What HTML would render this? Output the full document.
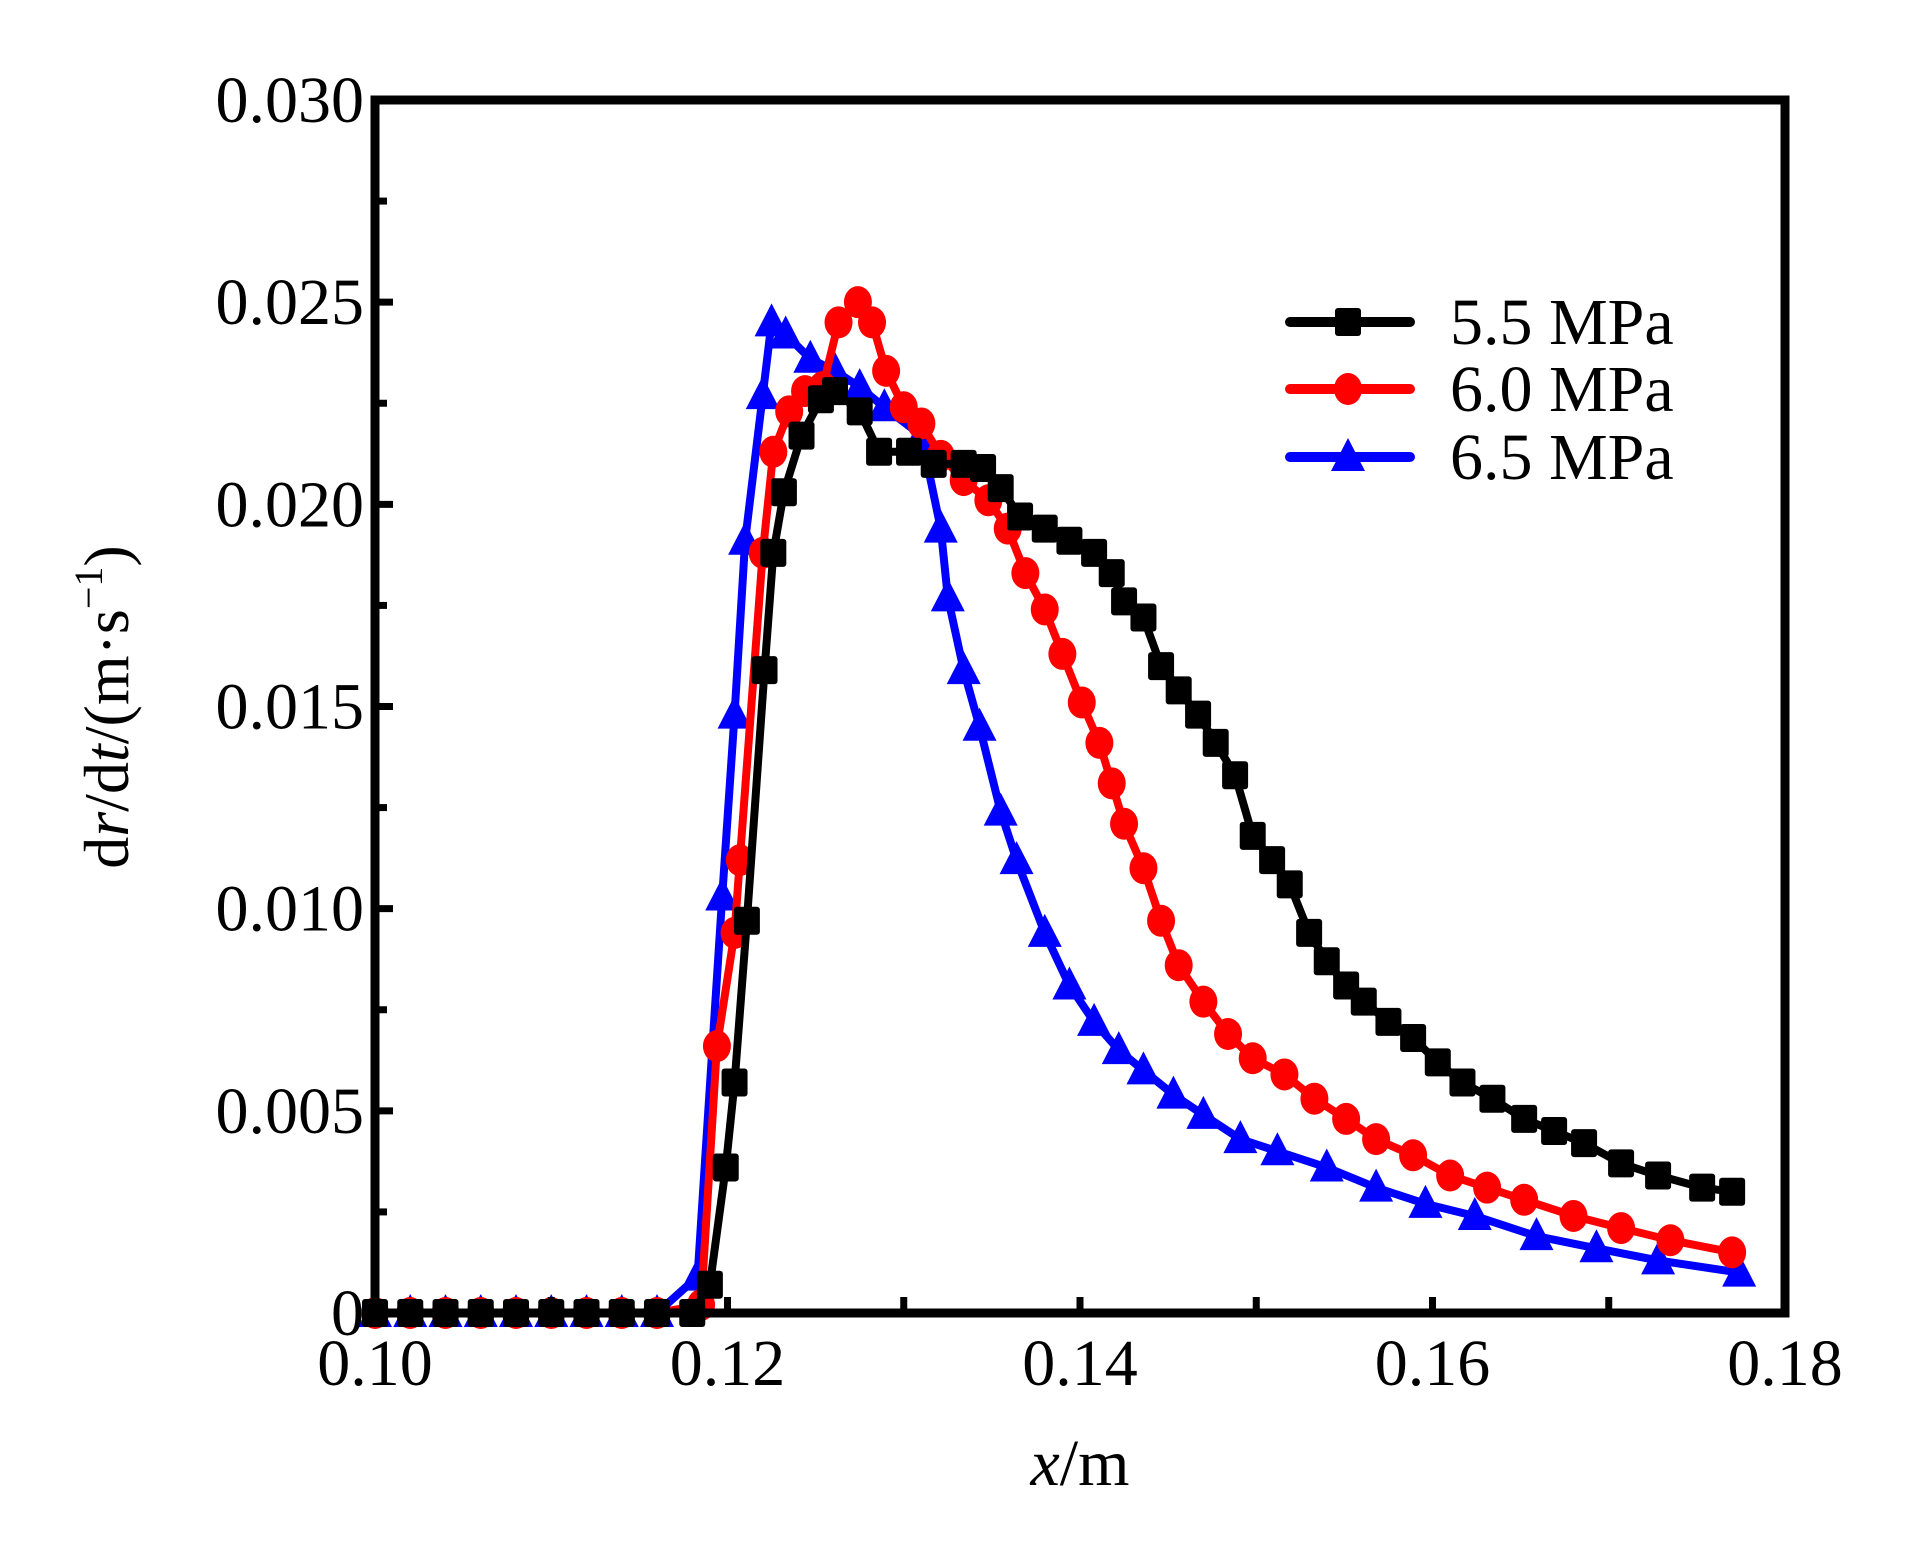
<!DOCTYPE html>
<html><head><meta charset="utf-8"><style>
html,body{margin:0;padding:0;background:#fff;}
svg{display:block;font-family:"Liberation Serif",serif;}
</style></head><body>
<svg id="chart" width="1923" height="1559" viewBox="0 0 1923 1559">
<g id="series"></g>
<rect x="375" y="100" width="1410" height="1213" fill="none" stroke="#000" stroke-width="9"/>
<g id="axes"></g>
<text x="128" y="707" transform="rotate(-90 128 707)" text-anchor="middle" font-size="64">d<tspan font-style="italic">r</tspan>/d<tspan font-style="italic">t</tspan>/(m·s<tspan font-size="40" dy="-26">−1</tspan><tspan dy="26">)</tspan></text>
<text x="1080" y="1485" text-anchor="middle" font-size="66"><tspan font-style="italic">x</tspan>/m</text>
<g id="legend"></g>
</svg>
<script>
const xTicks=[0.10,0.11,0.12,0.13,0.14,0.15,0.16,0.17,0.18];
const xLabels=["0.10","","0.12","","0.14","","0.16","","0.18"];
const yTicks=[0,0.0025,0.005,0.0075,0.01,0.0125,0.015,0.0175,0.02,0.0225,0.025,0.0275,0.03];
const yLabels=["0","","0.005","","0.010","","0.015","","0.020","","0.025","","0.030"];
const seriesNames=["5.5 MPa","6.0 MPa","6.5 MPa"];
const seriesColors=["#000","#f00","#00f"];
const x55=[0.1,0.102,0.104,0.106,0.108,0.11,0.112,0.114,0.116,0.118,0.119,0.1199,0.1204,0.1211,0.1221,0.1226,0.1232,0.1242,0.1253,0.1261,0.1275,0.1286,0.1303,0.1317,0.1334,0.1345,0.1355,0.1366,0.138,0.1394,0.1408,0.1418,0.1425,0.1436,0.1446,0.1456,0.1467,0.1477,0.1488,0.1498,0.1509,0.1519,0.153,0.154,0.1551,0.1561,0.1575,0.1589,0.1603,0.1617,0.1634,0.1652,0.1669,0.1686,0.1707,0.1728,0.1753,0.177];
const y55=[0,0,0,0,0,0,0,0,0,0,0.0007,0.0036,0.0057,0.0097,0.0159,0.0188,0.0203,0.0217,0.0226,0.0228,0.0223,0.0213,0.0213,0.021,0.021,0.0209,0.0204,0.0197,0.0194,0.0191,0.0188,0.0183,0.0176,0.0172,0.016,0.0154,0.0148,0.0141,0.0133,0.0118,0.0112,0.0106,0.0094,0.0087,0.0081,0.0077,0.0072,0.0068,0.0062,0.0057,0.0053,0.0048,0.0045,0.0042,0.0037,0.0034,0.0031,0.003];
const x60=[0.1,0.102,0.104,0.106,0.108,0.11,0.112,0.114,0.116,0.1185,0.1194,0.1204,0.1207,0.122,0.1226,0.1235,0.1244,0.1254,0.1263,0.1274,0.1282,0.129,0.13,0.131,0.1321,0.1334,0.1348,0.1359,0.1369,0.138,0.139,0.1401,0.1411,0.1418,0.1425,0.1436,0.1446,0.1456,0.147,0.1484,0.1498,0.1516,0.1533,0.1551,0.1568,0.1589,0.161,0.1631,0.1652,0.168,0.1707,0.1735,0.177];
const y60=[0,0,0,0,0,0,0,0,0,0.0002,0.0066,0.0094,0.0112,0.0188,0.0213,0.0223,0.0228,0.0229,0.0245,0.025,0.0245,0.0233,0.0224,0.022,0.0212,0.0206,0.0201,0.0194,0.0183,0.0174,0.0163,0.0151,0.0141,0.0131,0.0121,0.011,0.0097,0.0086,0.0077,0.0069,0.0063,0.0059,0.0053,0.0048,0.0043,0.0039,0.0034,0.0031,0.0028,0.0024,0.0021,0.0018,0.0015];
const x65=[0.1,0.102,0.104,0.106,0.108,0.11,0.112,0.114,0.116,0.1183,0.1197,0.1204,0.121,0.122,0.1225,0.1233,0.1247,0.1261,0.1275,0.1289,0.131,0.1321,0.1325,0.1334,0.1343,0.1355,0.1364,0.138,0.1394,0.1408,0.1422,0.1436,0.1453,0.147,0.1491,0.1512,0.154,0.1568,0.1596,0.1624,0.1659,0.1693,0.1728,0.1774];
const y65=[0,0,0,0,0,0,0,0,0,0.0009,0.0103,0.0148,0.0191,0.0227,0.0245,0.0242,0.0236,0.0233,0.0229,0.0224,0.0217,0.0194,0.0177,0.0159,0.0145,0.0124,0.0112,0.0094,0.0081,0.0072,0.0065,0.006,0.0054,0.0049,0.0043,0.004,0.0036,0.0031,0.0027,0.0024,0.0019,0.0016,0.0013,0.001];

const NS="http://www.w3.org/2000/svg";
const X0=375,X1=1785,Y0=1313,Y1=100;
const sx=v=>X0+(v-0.10)/(0.08)*(X1-X0);
const sy=v=>Y0-(v/0.03)*(Y0-Y1);
function mk(tag,attrs,parent){const e=document.createElementNS(NS,tag);for(const k in attrs)e.setAttribute(k,attrs[k]);parent.appendChild(e);return e;}
const axes=document.getElementById('axes');
xTicks.forEach((t,i)=>{
  const l=mk('line',{x1:sx(t),x2:sx(t),y1:Y0,y2:Y0-16,stroke:'#000','stroke-width':7},axes);
  
  
  if(xLabels[i]){const tx=mk('text',{x:sx(t),y:1385,'text-anchor':'middle','font-size':66},axes);tx.textContent=xLabels[i];
  
  }
});
yTicks.forEach((t,i)=>{
  const l=mk('line',{x1:X0,x2:X0+(i%2?12:18),y1:sy(t),y2:sy(t),stroke:'#000','stroke-width':7},axes);
  
  
  if(yLabels[i]){const tx=mk('text',{x:364,y:sy(t)+22,'text-anchor':'end','font-size':66},axes);tx.textContent=yLabels[i];
  
  }
});
function marker(type,cx,cy,color,parent){
  let m;
  if(type===0)m=mk('rect',{x:cx-13,y:cy-14,width:26,height:28,rx:3,fill:color},parent);
  else if(type===1)m=mk('ellipse',{cx:cx,cy:cy,rx:14,ry:16,fill:color},parent);
  else m=mk('polygon',{points:`${cx},${cy-19} ${cx-17},${cy+14} ${cx+17},${cy+14}`,fill:color},parent);
  return m;
}
const sg=document.getElementById('series');
const allX=[x55,x60,x65],allY=[y55,y60,y65];
[2,1,0].forEach(s=>{
  const g=mk('g',{},sg);
  
  
  const pts=allX[s].map((x,i)=>sx(x)+','+sy(allY[s][i])).join(' ');
  const pl=mk('polyline',{points:pts,fill:'none',stroke:seriesColors[s],'stroke-width':8,'stroke-linejoin':'round'},g);
  
  
  allX[s].forEach((x,i)=>{const m=marker(s,sx(x),sy(allY[s][i]),seriesColors[s],g);
    
    });
});
const lg=document.getElementById('legend');
const rows=[322,389,457];
seriesNames.forEach((n,s)=>{
  const g=mk('g',{},lg);
  
  
  mk('line',{x1:1290,x2:1410,y1:rows[s],y2:rows[s],stroke:seriesColors[s],'stroke-width':10,'stroke-linecap':'round'},g);
  marker(s,1348,rows[s],seriesColors[s],g);
  const t=mk('text',{x:1450,y:rows[s]+22,'font-size':66},g);t.textContent=n;
  
  
});
</script>
</body></html>
